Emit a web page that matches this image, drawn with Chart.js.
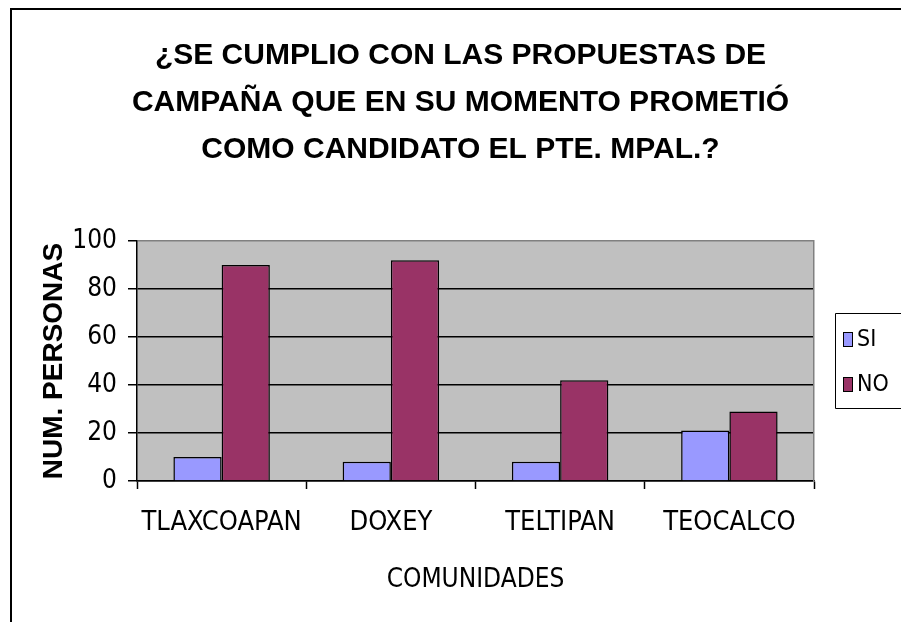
<!DOCTYPE html>
<html>
<head>
<meta charset="utf-8">
<script src="https://cdn.jsdelivr.net/npm/chart.js@4.4.0/dist/chart.umd.min.js"></script>
<style>
  html, body { margin: 0; padding: 0; background: #ffffff; overflow: hidden; }
  canvas { display: block; }
</style>
</head>
<body>
<canvas id="c" width="901" height="622"></canvas>
<script>
// ---- data ----
const titleLines = ['¿SE CUMPLIO CON LAS PROPUESTAS DE', 'CAMPAÑA QUE EN SU MOMENTO PROMETIÓ', 'COMO CANDIDATO EL PTE. MPAL.?'];
const categories = ['TLAXCOAPAN', 'DOXEY', 'TELTIPAN', 'TEOCALCO'];
const seriesNames = ['SI', 'NO'];
const siValues = [10, 8, 8, 21];
const noValues = [90, 92, 42, 29];
const yTickValues = [0, 20, 40, 60, 80, 100];
const xAxisTitle = 'COMUNIDADES';
const yAxisTitle = 'NUM. PERSONAS';

const NARROW = "'DejaVu Sans Condensed', 'Liberation Sans Narrow', sans-serif";
const SANS = "'Liberation Sans', Arial, sans-serif";

const framePlugin = {
  id: 'frame',
  beforeDraw(chart) {
    const ctx = chart.ctx;
    const a = chart.chartArea;
    ctx.save();
    ctx.fillStyle = '#ffffff';
    ctx.fillRect(0, 0, chart.width, chart.height);
    ctx.fillStyle = '#c0c0c0';
    ctx.fillRect(a.left, a.top, a.right - a.left, a.bottom - a.top);
    ctx.strokeStyle = '#000000';
    ctx.lineWidth = 2;
    ctx.beginPath();
    ctx.moveTo(11, chart.height);
    ctx.lineTo(11, 9);
    ctx.lineTo(chart.width, 9);
    ctx.stroke();
    ctx.restore();
  },
  afterDraw(chart) {
    // legend box
    const ctx = chart.ctx;
    const a = chart.chartArea;
    const cy = (a.top + a.bottom) / 2;
    const boxL = a.right + 21, boxT = cy - 48, boxB = cy + 47;
    ctx.save();
    ctx.fillStyle = '#ffffff';
    ctx.fillRect(boxL, boxT, chart.width - boxL, boxB - boxT);
    ctx.strokeStyle = '#000000';
    ctx.lineWidth = 1;
    ctx.beginPath();
    ctx.moveTo(chart.width, boxT + 0.5);
    ctx.lineTo(boxL + 0.5, boxT + 0.5);
    ctx.lineTo(boxL + 0.5, boxB + 0.5);
    ctx.lineTo(chart.width, boxB + 0.5);
    ctx.stroke();
    ctx.font = '23px ' + NARROW;
    ctx.textBaseline = 'middle';
    chart.data.datasets.forEach((ds, i) => {
      const y = cy - 22 + i * 45;
      ctx.fillStyle = ds.backgroundColor;
      ctx.fillRect(boxL + 8, y - 7, 9, 14);
      ctx.strokeStyle = '#000000';
      ctx.lineWidth = 1;
      ctx.strokeRect(boxL + 8.5, y - 6.5, 9, 14);
      ctx.fillStyle = '#000000';
      ctx.fillText(ds.label, boxL + 22, y + 1);
    });
    ctx.restore();
  }
};

new Chart(document.getElementById('c'), {
  type: 'bar',
  data: {
    labels: categories,
    datasets: [
      { label: seriesNames[0], data: siValues, backgroundColor: '#9999ff', borderColor: '#000000', borderWidth: 1.5, categoryPercentage: 0.57, barPercentage: 1.0 },
      { label: seriesNames[1], data: noValues, backgroundColor: '#993366', borderColor: '#000000', borderWidth: 1.5, categoryPercentage: 0.57, barPercentage: 1.0 }
    ]
  },
  options: {
    responsive: false,
    animation: false,
    events: [],
    layout: { padding: { left: 20, right: 0, top: 0, bottom: 0 } },
    plugins: {
      legend: { display: false },
      tooltip: { enabled: false },
      title: {
        display: true,
        text: titleLines,
        color: '#000000',
        font: { family: SANS, size: 30, weight: 'bold', lineHeight: 47 / 30 },
        padding: { top: 32, bottom: 68 }
      }
    },
    scales: {
      x: {
        grid: { display: true, drawOnChartArea: false, drawTicks: true, tickLength: 8, tickColor: '#000000', tickWidth: 1.5, offset: true },
        border: { display: true, color: '#000000', width: 1.5 },
        ticks: { color: '#000000', font: { family: NARROW, size: 27 }, padding: 18, maxRotation: 0, autoSkip: false },
        title: { display: true, text: xAxisTitle, color: '#000000', font: { family: NARROW, size: 26 }, padding: { top: 4, bottom: 26 } },
        afterFit(scale) { scale.height = 141; }
      },
      y: {
        min: 0,
        max: 100,
        afterBuildTicks(scale) { scale.ticks = yTickValues.map(v => ({ value: v })); },
        grid: {
          color: (c) => (c.tick && c.tick.value === 100 ? '#808080' : '#000000'),
          lineWidth: 1.5,
          tickColor: '#000000',
          tickLength: 9,
          tickWidth: 1.5
        },
        border: { display: true, color: '#000000', width: 1.5 },
        ticks: { color: '#000000', font: { family: NARROW, size: 26 }, padding: 11 },
        title: { display: true, text: yAxisTitle, color: '#000000', font: { family: SANS, size: 28, weight: 'bold' }, padding: { top: 17, bottom: 17 } },
        afterFit(scale) { scale.width = 117; }
      },
      y2: {
        position: 'right',
        display: true,
        grid: { display: false, drawTicks: false },
        ticks: { display: false },
        border: { display: true, color: '#808080', width: 1.5 },
        afterFit(scale) { scale.width = 87; }
      }
    }
  },
  plugins: [framePlugin]
});
</script>
</body>
</html>
